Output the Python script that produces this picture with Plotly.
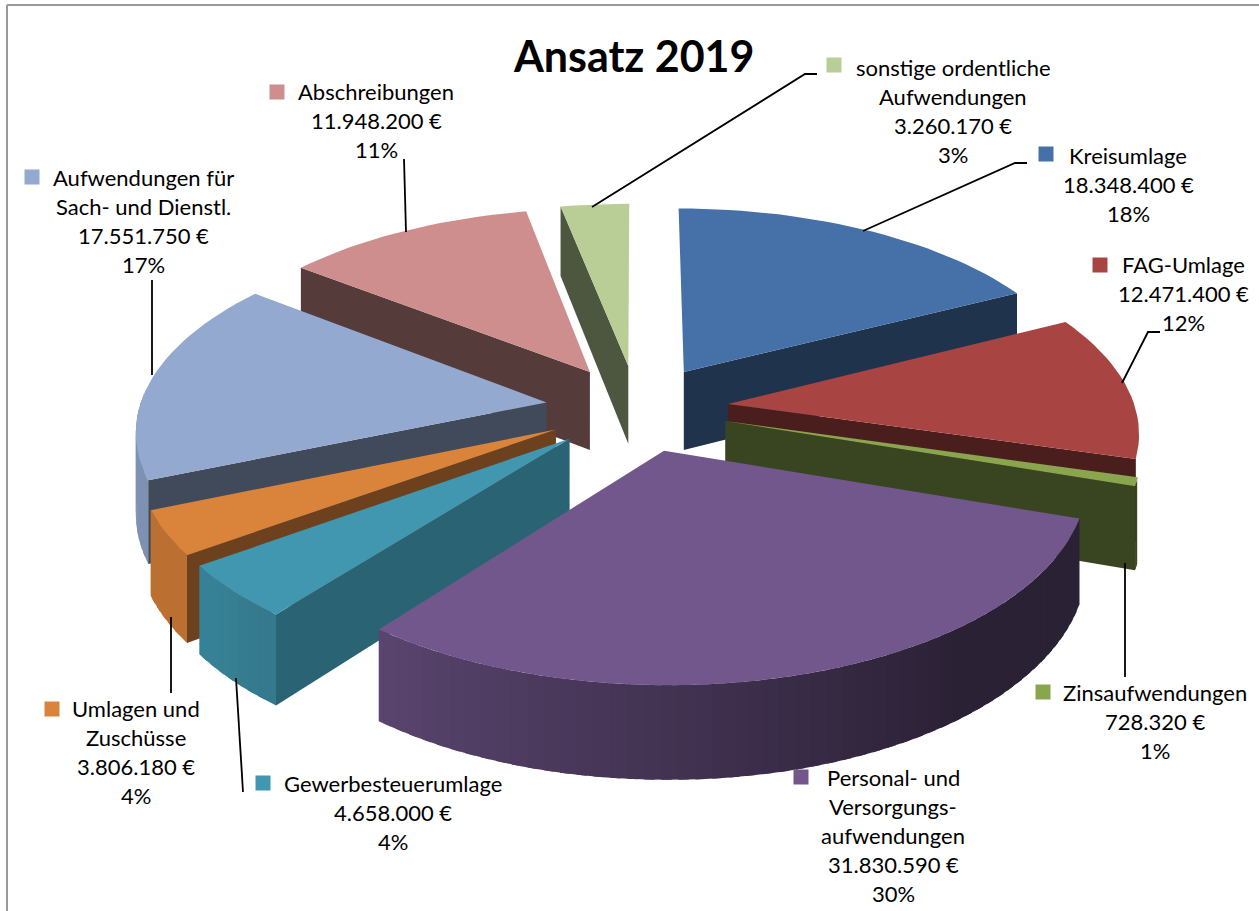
import math
import plotly.graph_objects as go

categories = ["Kreisumlage", "FAG-Umlage", "Zinsaufwendungen", "Personal- und Versorgungsaufwendungen",
              "Gewerbesteuerumlage", "Umlagen und Zuschüsse", "Aufwendungen für Sach- und Dienstl.",
              "Abschreibungen", "sonstige ordentliche Aufwendungen"]
values = [18348400, 12471400, 728320, 31830590, 4658000, 3806180, 17551750, 11948200, 3260170]
top_colors = ["#4571A8", "#A84543", "#89A54E", "#71578C", "#4197AF", "#DA833A", "#93A9CF", "#CE8E8D", "#B9CD96"]
wall_shade = [0.46, 0.44, 0.42, 0.40, 0.66, 0.50, 0.44, 0.42, 0.42]
draw_order = [0, 8, 7, 1, 2, 6, 5, 4, 3]

label_lines = [
    ["Kreisumlage", "18.348.400 €", "18%"],
    ["FAG-Umlage", "12.471.400 €", "12%"],
    ["Zinsaufwendungen", "728.320 €", "1%"],
    ["Personal- und", "Versorgungs-", "aufwendungen", "31.830.590 €", "30%"],
    ["Gewerbesteuerumlage", "4.658.000 €", "4%"],
    ["Umlagen und", "Zuschüsse", "3.806.180 €", "4%"],
    ["Aufwendungen für", "Sach- und Dienstl.", "17.551.750 €", "17%"],
    ["Abschreibungen", "11.948.200 €", "11%"],
    ["sonstige ordentliche", "Aufwendungen", "3.260.170 €", "3%"],
]
label_x = [1128, 1183, 1155, 893, 393, 136, 143, 376, 953]
label_y = [155, 264, 692, 777, 783, 708, 177, 91, 67]
line_step = 29.2
swatch_x = [1046, 1100, 1043, 801, 263, 52, 32, 277, 834]
swatch_y = [154, 265, 692, 777, 783, 709, 177, 92, 65]
leaders = [
    [(863, 231), (1015, 163), (1027, 163)],
    [(1122, 383), (1148, 332), (1160, 332)],
    [(1125, 563), (1125, 677)],
    [(236, 678), (243, 792)],
    [(171, 617), (171, 693)],
    [(152, 280), (152, 375)],
    [(404, 159), (406, 232)],
    [(592, 207), (805, 74), (817, 74)],
]

FONT = "Lato, Carlito, sans-serif"
CX, CY = 637, 408
RADIUS, EXPLODE, DEPTH = 400, 90, 80
TILT, PERSP_Y = 0.482, 0.000318
WIDE, PERSP_X = 1.018, 0.00032
FRONT_MIN_DEG, FRONT_MAX_DEG = 107, 272


def proj(wx, wz, drop=0.0):
    sy = 1 / (1 + PERSP_Y * wz)
    sx = WIDE / (1 + PERSP_X * wz)
    return CX + wx * sx, CY + (-TILT * wz + drop) * sy


def shade(hex_color, f):
    r, g, b = (int(hex_color[i:i + 2], 16) for i in (1, 3, 5))
    return "#%02x%02x%02x" % (min(255, int(r * f)), min(255, int(g * f)), min(255, int(b * f)))


def outer_light(deg):
    return max(0.38, min(0.86, 0.38 + (deg - 140) / 78 * 0.42))


fig = go.Figure()


def poly(points, color):
    xs = [p[0] for p in points] + [points[0][0]]
    ys = [p[1] for p in points] + [points[0][1]]
    fig.add_trace(go.Scatter(x=xs, y=ys, mode="lines", fill="toself", fillcolor=color,
                             line=dict(color=color, width=0), hoverinfo="skip", showlegend=False))


total = sum(values)
bounds = [0.0]
for v in values:
    bounds.append(bounds[-1] + v / total * 360)

for i in draw_order:
    a0, a1 = bounds[i], bounds[i + 1]
    mid = math.radians((a0 + a1) / 2)
    ox, oz = EXPLODE * math.sin(mid), EXPLODE * math.cos(mid)
    n = max(4, int((a1 - a0) / 2))
    step = (a1 - a0) / n
    angles = [a0 + step * j for j in range(n + 1)]

    def rim(deg, drop=0.0):
        t = math.radians(deg)
        return proj(ox + RADIUS * math.sin(t), oz + RADIUS * math.cos(t), drop)

    # outer curved wall, near side only; each band overlaps the next so no seams show
    for d0 in reversed(angles[:-1]):
        d1 = min(a1, d0 + step * 1.6)
        m = d0 + step / 2
        if FRONT_MIN_DEG < m < FRONT_MAX_DEG:
            poly([rim(d0), rim((d0 + d1) / 2), rim(d1), rim(d1, DEPTH), rim((d0 + d1) / 2, DEPTH), rim(d0, DEPTH)],
                 shade(top_colors[i], outer_light(m)))
    # radial walls facing the viewer
    apex = proj(ox, oz)
    apex_b = proj(ox, oz, DEPTH)
    wall = shade(top_colors[i], wall_shade[i])
    if math.sin(math.radians(a0)) < 0:
        poly([apex, rim(a0), rim(a0, DEPTH), apex_b], wall)
    if math.sin(math.radians(a1)) > 0:
        poly([apex, rim(a1), rim(a1, DEPTH), apex_b], wall)
    # top face
    poly([apex] + [rim(d) for d in angles], top_colors[i])

for seg in leaders:
    fig.add_trace(go.Scatter(x=[p[0] for p in seg], y=[p[1] for p in seg], mode="lines",
                             line=dict(color="black", width=1.8), hoverinfo="skip", showlegend=False))

fig.add_trace(go.Scatter(x=swatch_x, y=swatch_y, mode="markers",
                         marker=dict(symbol="square", size=15, color=top_colors, line=dict(width=0)),
                         text=categories, hoverinfo="text", showlegend=False))

annotations = [dict(x=633, y=55, xref="x", yref="y", text="<b>Ansatz 2019</b>", showarrow=False,
                    font=dict(family=FONT, size=43, color="black"), xanchor="center", yanchor="middle")]
for lines, lx, ly in zip(label_lines, label_x, label_y):
    for j, line in enumerate(lines):
        annotations.append(dict(x=lx, y=ly + j * line_step, xref="x", yref="y", text=line, showarrow=False,
                                font=dict(family=FONT, size=22, color="black"),
                                xanchor="center", yanchor="middle"))

fig.update_layout(
    width=1259, height=911, margin=dict(l=0, r=0, t=0, b=0),
    paper_bgcolor="white", plot_bgcolor="white", showlegend=False,
    xaxis=dict(range=[0, 1259], visible=False, fixedrange=True),
    yaxis=dict(range=[911, 0], visible=False, fixedrange=True),
    annotations=annotations,
    shapes=[
        dict(type="line", x0=7, x1=7, y0=5, y1=911, line=dict(color="#999999", width=2)),
        dict(type="line", x0=7, x1=1259, y0=5, y1=5, line=dict(color="#999999", width=2)),
    ],
)
fig.write_html("out.html", config={"displayModeBar": False},
               post_script="document.body.style.margin='0';document.body.style.overflow='hidden';")
